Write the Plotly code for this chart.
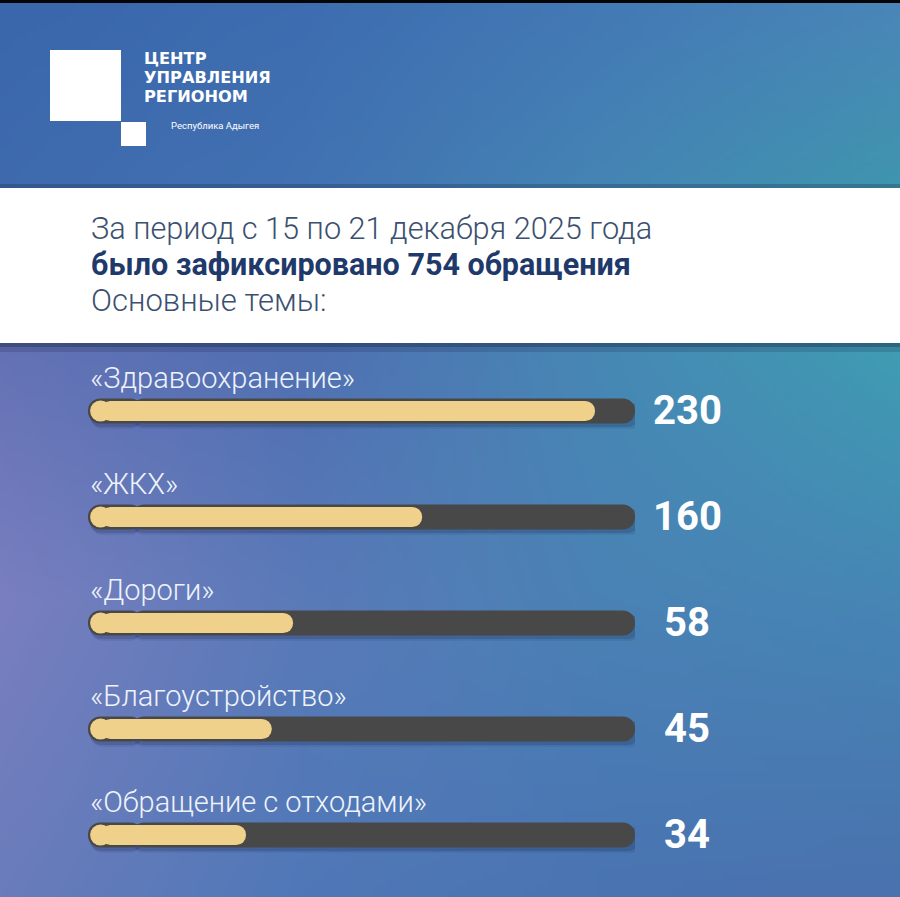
import base64, struct, zlib
import numpy as np
import plotly.graph_objects as go

# ---------------- data ----------------
topics = ["«Здравоохранение»", "«ЖКХ»", "«Дороги»", "«Благоустройство»", "«Обращение с отходами»"]
counts = [230, 160, 58, 45, 34]
# filled share of each track as drawn in the picture (percent of full track)
fill_share = [92.7, 61.1, 37.5, 33.6, 28.9]
track_max = [100, 100, 100, 100, 100]

header_line1 = "За период с 15 по 21 декабря 2025 года"
header_line2 = "было зафиксировано 754 обращения"
header_line3 = "Основные темы:"
logo_lines = ["ЦЕНТР", "УПРАВЛЕНИЯ", "РЕГИОНОМ"]
logo_sub = "Республика Адыгея"

# ---------------- canvas geometry ----------------
W, H = 900, 897
ML, MR, MT, MB = 88, 265, 358, 9
PW, PH = W - ML - MR, H - MT - MB


def px(x):
    return (x - ML) / PW


def py(y):
    return (H - MB - y) / PH


# ---------------- background gradient (png data uri) ----------------
def hexrgb(h):
    h = h.lstrip("#")
    return [int(h[i:i + 2], 16) for i in (0, 2, 4)]


xs_c = [0, 300, 600, 900]
ys_c = [0, 190, 350, 600, 897]
grid = np.array([
    [hexrgb(c) for c in ["#3a66ac", "#3d6db0", "#4379b5", "#4a86b8"]],
    [hexrgb(c) for c in ["#3f6aae", "#4272b2", "#4585b4", "#3f96ae"]],
    [hexrgb(c) for c in ["#6472b5", "#5070b2", "#4788b5", "#3f9db2"]],
    [hexrgb(c) for c in ["#7a7fc0", "#5a7ab8", "#4a82b5", "#4686b5"]],
    [hexrgb(c) for c in ["#6a7cbb", "#5078b8", "#4a74b2", "#4a72ae"]],
], dtype=float)
GW, GH = 180, 180
gx = np.linspace(0, 900, GW)
gy = np.linspace(0, 897, GH)
rows = np.zeros((len(ys_c), GW, 3))
for r in range(len(ys_c)):
    for ch in range(3):
        rows[r, :, ch] = np.interp(gx, xs_c, grid[r, :, ch])
img = np.zeros((GH, GW, 3))
for c in range(GW):
    for ch in range(3):
        img[:, c, ch] = np.interp(gy, ys_c, rows[:, c, ch])
img = np.clip(img, 0, 255).astype(np.uint8)


def png_uri(a):
    h, w, _ = a.shape
    raw = b"".join(b"\x00" + a[i].tobytes() for i in range(h))

    def chunk(t, d):
        return struct.pack(">I", len(d)) + t + d + struct.pack(">I", zlib.crc32(t + d) & 0xffffffff)

    data = (b"\x89PNG\r\n\x1a\n" + chunk(b"IHDR", struct.pack(">IIBBBBB", w, h, 8, 2, 0, 0, 0))
            + chunk(b"IDAT", zlib.compress(raw, 9)) + chunk(b"IEND", b""))
    return "data:image/png;base64," + base64.b64encode(data).decode()


bg_uri = png_uri(img)

# ---------------- figure ----------------
fig = go.Figure()
n = len(topics)
ROW_PX = PH / n
TRACK_W = 0.236
FILL_W = 0.19
FILL_PX = FILL_W * ROW_PX
cap_x = (2.5 + FILL_PX / 2) / PW * 100  # centre of the fill's round left end


def capbar(xvals, base, width, color, radius, offset=None):
    kw = dict(y=topics, x=xvals, base=base, orientation="h", width=width,
              marker=dict(color=color, cornerradius=radius, line=dict(width=0)),
              hoverinfo="skip", showlegend=False)
    if offset is not None:
        kw["offset"] = offset
    fig.add_trace(go.Bar(**kw))


# soft shadows under the tracks (right part + left cap)
for dy, dx, a in [(0.05, 1.4, 0.10), (0.032, 0.9, 0.16)]:
    capbar([m - 8 + dx for m in track_max], [8] * n, TRACK_W, f"rgba(15,25,60,{a})", 12,
           offset=-TRACK_W / 2 + dy)
    capbar([-10 + dx * 0.3] * n, [10] * n, TRACK_W, f"rgba(15,25,60,{a})", 12,
           offset=-TRACK_W / 2 + dy)

# dark tracks: right part rounded at the end, left cap rounded at the start
capbar([m - 8 for m in track_max], [8] * n, TRACK_W, "#484848", 12)
capbar([-10] * n, [10] * n, TRACK_W, "#484848", 12)

# yellow fills (rounded right end) + round left end
capbar([f - cap_x for f in fill_share], [cap_x] * n, FILL_W, "#f0d18b", FILL_PX / 2)
fig.add_trace(go.Scatter(
    x=[cap_x] * n, y=topics, mode="markers",
    marker=dict(symbol="circle", size=FILL_PX + 0.8, color="#f0d18b", line=dict(width=0)),
    hoverinfo="skip", showlegend=False, cliponaxis=False))

annotations = []
for t, v in zip(topics, counts):
    annotations.append(dict(x=0, y=t, xref="x", yref="y", text=t, showarrow=False,
                            xanchor="left", yanchor="middle", xshift=0, yshift=33,
                            font=dict(family="Roboto", size=29, color="#eef3fb", weight=300)))
    annotations.append(dict(x=100, y=t, xref="x", yref="y", text=str(v), showarrow=False,
                            xanchor="center", yanchor="middle", xshift=52, yshift=1,
                            font=dict(family="Roboto", size=40, color="#ffffff", weight=700)))

# header texts
annotations += [
    dict(x=px(89), y=py(229), xref="paper", yref="paper", text=header_line1, showarrow=False,
         xanchor="left", yanchor="middle",
         font=dict(family="Roboto", size=30.7, color="#3b506f", weight=300)),
    dict(x=px(89), y=py(265), xref="paper", yref="paper", text=header_line2, showarrow=False,
         xanchor="left", yanchor="middle",
         font=dict(family="Roboto", size=30.5, color="#1f3a6a", weight=700)),
    dict(x=px(89), y=py(300), xref="paper", yref="paper", text=header_line3, showarrow=False,
         xanchor="left", yanchor="middle",
         font=dict(family="Roboto", size=31, color="#3b506f", weight=300)),
]
# logo texts
for i, s in enumerate(logo_lines):
    annotations.append(dict(x=px(143), y=py(58.5 + 19 * i), xref="paper", yref="paper", text=s,
                            showarrow=False, xanchor="left", yanchor="middle", borderpad=0,
                            font=dict(family="DejaVu Sans", size=16.2, color="#ffffff", weight=700)))
annotations.append(dict(x=px(169), y=py(125), xref="paper", yref="paper", text=logo_sub,
                        showarrow=False, xanchor="left", yanchor="middle",
                        font=dict(family="Roboto", size=9.5, color="#ffffff")))

shapes = [
    # top black strip
    dict(type="rect", xref="paper", yref="paper", x0=px(0), x1=px(900), y0=py(0), y1=py(3),
         fillcolor="#050505", line=dict(width=0), layer="below"),
    # band shadows
    dict(type="rect", xref="paper", yref="paper", x0=px(0), x1=px(900), y0=py(184), y1=py(188),
         fillcolor="rgba(20,30,60,0.25)", line=dict(width=0), layer="below"),
    dict(type="rect", xref="paper", yref="paper", x0=px(0), x1=px(900), y0=py(343), y1=py(352),
         fillcolor="rgba(20,30,60,0.18)", line=dict(width=0), layer="below"),
    dict(type="rect", xref="paper", yref="paper", x0=px(0), x1=px(900), y0=py(343), y1=py(347),
         fillcolor="rgba(20,30,60,0.30)", line=dict(width=0), layer="below"),
    # white band
    dict(type="rect", xref="paper", yref="paper", x0=px(0), x1=px(900), y0=py(188), y1=py(343),
         fillcolor="#ffffff", line=dict(width=0), layer="below"),
    # logo squares
    dict(type="rect", xref="paper", yref="paper", x0=px(50), x1=px(121), y0=py(50), y1=py(121),
         fillcolor="#ffffff", line=dict(width=0), layer="below"),
    dict(type="rect", xref="paper", yref="paper", x0=px(121), x1=px(146), y0=py(122), y1=py(146),
         fillcolor="#ffffff", line=dict(width=0), layer="below"),
]

fig.update_layout(
    width=W, height=H,
    margin=dict(l=ML, r=MR, t=MT, b=MB, pad=0),
    paper_bgcolor="#4a74b2", plot_bgcolor="rgba(0,0,0,0)",
    barmode="overlay", showlegend=False,
    xaxis=dict(range=[0, 100], visible=False, fixedrange=True),
    yaxis=dict(categoryorder="array", categoryarray=topics, autorange="reversed",
               range=[4.5, -0.5], visible=False, fixedrange=True),
    annotations=annotations, shapes=shapes,
    images=[dict(source=bg_uri, xref="paper", yref="paper", x=px(0), y=py(0),
                 sizex=W / PW, sizey=H / PH, sizing="stretch", xanchor="left", yanchor="top",
                 layer="below")],
)

fig.write_html("out.html", config={"displayModeBar": False})
